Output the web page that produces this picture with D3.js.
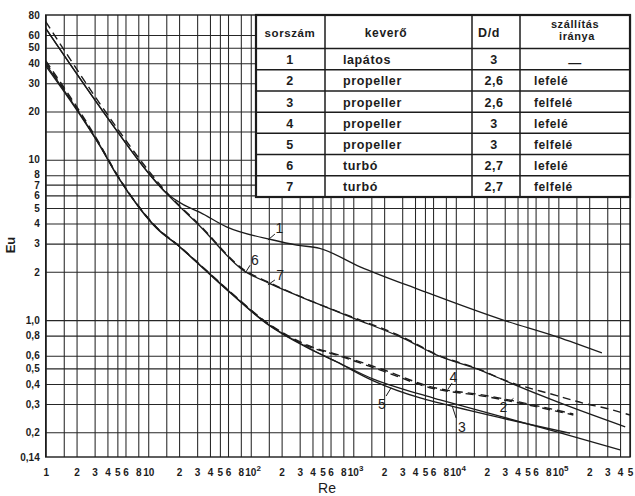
<!DOCTYPE html>
<html><head><meta charset="utf-8">
<script src="https://cdn.jsdelivr.net/npm/d3@7"></script>
<style>
body{margin:0;background:#fff;}
svg{display:block;font-family:"Liberation Sans",Arial,Helvetica,sans-serif;}
</style></head><body>
<svg id="c" width="635" height="496"></svg>
<script>
// ---------- data ----------
const gridMantissas = [1, 1.5, 2, 3, 4, 5, 6, 8];
const xTickValues = [1,2,3,4,5,6,8,10, 20,30,40,50,60,80,100, 200,300,400,500,600,800,1000,
  2000,3000,4000,5000,6000,8000,10000, 20000,30000,40000,50000,60000,80000,100000, 200000,300000,400000,500000];
const xTickLabels = ["1","2","3","4","5","6","8","10", "2","3","4","5","6","8","10^2", "2","3","4","5","6","8","10^3",
  "2","3","4","5","6","8","10^4", "2","3","4","5","6","8","10^5", "2","3","4","5"];
const yGridValues = [0.2,0.3,0.4,0.5,0.6,0.8,1,2,3,4,5,6,7,8,10,15,20,30,40,50,60];
const yTickValues = [80,60,50,40,30,20,10,8,7,6,5,4,3,2,1,0.8,0.6,0.5,0.4,0.3,0.2,0.14];
const yTickLabels = ["80","60","50","40","30","20","10","8","7","6","5","4","3","2","1,0","0,8","0,6","0,5","0,4","0,3","0,2","0,14"];

// series: [Re, Eu]
const curve1 = [[1,66],[4.75,15.7],[10,8.3],[15,6.2],[22,5.25],[32,4.7],[58,3.82],[165,3.16],[280,2.94],[470,2.8],[1165,2.15],[4500,1.54],[29000,1.0],[97000,0.787],[266000,0.625]];
const curve2 = [[1,41.5],[3.4,12.4],[5,8.0],[8.3,5.0],[12,3.8],[20.4,2.87],[30,2.3],[63,1.5],[143,0.96],[352,0.69],[690,0.605],[1967,0.48],[5500,0.38],[20000,0.333],[140000,0.256]];
const curve3 = [[1,38.5],[3.4,12.1],[5,7.9],[8.3,4.95],[12,3.75],[20.4,2.85],[30,2.28],[63,1.48],[143,0.95],[352,0.675],[690,0.55],[1570,0.428],[4490,0.345],[7030,0.318],[96600,0.201],[400000,0.155]];
const curve4 = [[1,40.5],[3.4,12.2],[5,8.0],[8.3,5.0],[12,3.8],[20.4,2.87],[30,2.3],[63,1.5],[143,0.97],[352,0.7],[690,0.612],[1967,0.49],[5500,0.386],[20000,0.338],[140000,0.26]];
const curve5 = [[1,39.5],[3.4,12.2],[5,7.95],[8.3,4.98],[12,3.78],[20.4,2.86],[30,2.29],[63,1.49],[143,0.955],[352,0.68],[690,0.548],[1570,0.418],[4490,0.327],[7030,0.303],[130000,0.197]];
const curve6 = [[1,72.7],[4.75,16.4],[10,8.6],[15,6.3],[32,3.9],[84,2.08],[150,1.72],[405,1.3],[1000,1.04],[3083,0.78],[6530,0.61],[17300,0.49],[29100,0.425],[96600,0.338],[176000,0.303],[297000,0.281],[500000,0.256]];
const curve7 = [[1,66],[4.75,15.7],[10,8.3],[15,6.2],[32,3.85],[84,2.05],[150,1.7],[405,1.3],[1000,1.03],[3083,0.77],[6530,0.605],[17300,0.488],[29100,0.423],[96600,0.31],[449000,0.216]];

const seriesNames = ["1","2","3","4","5","6","7"];
const seriesData = [curve1, curve2, curve3, curve4, curve5, curve6, curve7];
const seriesDashed = [false, true, false, true, false, true, false];

// curve labels: text anchor and leader (data coords)
const curveLabels = [
  {t:"1", re:190, eu:3.75, l:[[172,3.44],[147,3.16]]},
  {t:"6", re:110, eu:2.37, l:[[98.5,2.2],[88,1.96]]},
  {t:"7", re:193, eu:1.91, l:[[172,1.78],[147,1.66]]},
  {t:"4", re:9480, eu:0.443, l:[[9204,0.405],[8414,0.372]]},
  {t:"2", re:29110, eu:0.288, l:[[33900,0.312],[36500,0.325]]},
  {t:"5", re:1897, eu:0.302, l:[[2089,0.336],[2338,0.378]]},
  {t:"3", re:11450, eu:0.216, l:[[10070,0.245],[9204,0.292]]}
];

// table
const tableHeader = ["sorszám","keverő","D/d","szállítás|iránya"];
const rowNo = ["1","2","3","4","5","6","7"];
const mixer = ["lapátos","propeller","propeller","propeller","propeller","turbó","turbó"];
const ratio = ["3","2,6","2,6","3","3","2,7","2,7"];
const direction = ["—","lefelé","felfelé","lefelé","felfelé","lefelé","felfelé"];

// ---------- drawing ----------
const svg = d3.select("#c");
const m = {l:45.7, r:630, t:15, b:457};
const x = d3.scaleLog().domain([1, 5e5]).range([m.l, m.r]);
const y = d3.scaleLog().domain([0.14, 80]).range([m.b, m.t]);
const ink = "#1c1c1c";

svg.append("rect").attr("width",635).attr("height",496).attr("fill","#fff");

// vertical grid
const xGrid = [];
for (let k = 0; k <= 5; k++) gridMantissas.forEach(mm => { const v = mm * Math.pow(10,k); if (v <= 5e5) xGrid.push(v); });
xGrid.push(5e5);
svg.append("g").attr("transform",`translate(0,${m.b})`)
  .call(d3.axisBottom(x).tickValues(xGrid).tickSize(-(m.b-m.t)).tickFormat(""))
  .call(g => g.select(".domain").remove())
  .selectAll("line").attr("stroke", "#262626").attr("stroke-width", 1.05);

// horizontal grid
svg.append("g").attr("transform",`translate(${m.l},0)`)
  .call(d3.axisLeft(y).tickValues(yGridValues).tickSize(-(m.r-m.l)).tickFormat(""))
  .call(g => g.select(".domain").remove())
  .selectAll("line").attr("stroke", "#262626").attr("stroke-width", 1.05);

// frame
svg.append("rect").attr("x",m.l).attr("y",m.t).attr("width",m.r-m.l).attr("height",m.b-m.t)
  .attr("fill","none").attr("stroke",ink).attr("stroke-width",1.4);

// axes labels
const xAxis = svg.append("g").attr("transform",`translate(0,${m.b})`)
  .call(d3.axisBottom(x).tickValues(xTickValues).tickFormat((d,i)=>xTickLabels[i]).tickSize(0).tickPadding(12));
xAxis.select(".domain").remove();
xAxis.selectAll("text").attr("font-size",10).attr("font-weight","bold").attr("fill",ink)
  .attr("font-family","'Liberation Sans',Arial,sans-serif")
  .each(function(d,i){
    const lab = xTickLabels[i];
    if (lab.includes("^")) {
      const [b,e] = lab.split("^");
      const s = d3.select(this).text(null).attr("text-anchor","start").attr("x",-6);
      s.append("tspan").text(b);
      s.append("tspan").text(e).attr("font-size",8).attr("dy",-5);
    }
  });

const yAxis = svg.append("g").attr("transform",`translate(${m.l},0)`)
  .call(d3.axisLeft(y).tickValues(yTickValues).tickFormat((d,i)=>yTickLabels[i]).tickSize(0).tickPadding(6));
yAxis.select(".domain").remove();
yAxis.selectAll("text").attr("font-size",10).attr("font-weight","bold").attr("fill",ink)
  .attr("font-family","'Liberation Sans',Arial,sans-serif")
  .attr("dy", (d)=> d===8 ? "0.22em" : d===7 ? "0.42em" : "0.32em");

svg.append("text").attr("x",327).attr("y",493).attr("text-anchor","middle")
  .attr("font-size",14).attr("fill",ink).text("Re");
svg.append("text").attr("transform","translate(15,245) rotate(-90)").attr("text-anchor","middle")
  .attr("font-size",13).attr("font-weight","bold").attr("fill",ink).text("Eu");

// curves
const line = d3.line().x(d=>x(d[0])).y(d=>y(d[1])).curve(d3.curveMonotoneX);
seriesData.forEach((s,i)=>{
  svg.append("path").datum(s).attr("d",line).attr("fill","none")
    .attr("stroke",ink).attr("stroke-width", seriesDashed[i] ? 1.4 : 1.3)
    .attr("stroke-dasharray", seriesDashed[i] ? "8,5" : null);
});

// curve labels
curveLabels.forEach(c=>{
  svg.append("line").attr("x1",x(c.l[0][0])).attr("y1",y(c.l[0][1]))
    .attr("x2",x(c.l[1][0])).attr("y2",y(c.l[1][1])).attr("stroke",ink).attr("stroke-width",1);
  svg.append("text").attr("x",x(c.re)).attr("y",y(c.eu)).attr("dy","0.36em").attr("text-anchor","middle")
    .attr("font-size",14).attr("fill",ink).text(c.t);
});

// table
const colX = [256, 325, 472, 520, 630];
const tTop = 15, hBot = 48.5, tBot = 197;
const rowH = (tBot - hBot) / rowNo.length;
const tg = svg.append("g");
tg.append("rect").attr("x",colX[0]).attr("y",tTop).attr("width",colX[4]-colX[0]).attr("height",tBot-tTop)
  .attr("fill","#fff").attr("stroke",ink).attr("stroke-width",2.2);
colX.slice(1,4).forEach(cx=> tg.append("line").attr("x1",cx).attr("x2",cx).attr("y1",tTop).attr("y2",tBot)
  .attr("stroke",ink).attr("stroke-width",1.5));
d3.range(rowNo.length).forEach(i=>{
  const yy = hBot + i*rowH;
  tg.append("line").attr("x1",colX[0]).attr("x2",colX[4]).attr("y1",yy).attr("y2",yy)
    .attr("stroke",ink).attr("stroke-width",1.5);
});
const txt = (xx,yy,t,anchor,size)=> tg.append("text").attr("x",xx).attr("y",yy).attr("text-anchor",anchor)
  .attr("font-size",size).attr("font-weight","bold").attr("fill",ink).attr("letter-spacing",0.6).text(t);
txt(290, 37, tableHeader[0], "middle", 11.5);
txt(386, 37, tableHeader[1], "middle", 12);
txt(489, 37, tableHeader[2], "middle", 12.5);
const hd = tableHeader[3].split("|");
txt(575, 28, hd[0], "middle", 11);
txt(577, 40, hd[1], "middle", 11);
rowNo.forEach((r,i)=>{
  const cy = hBot + (i+0.5)*rowH + 5;
  txt(290, cy, r, "middle", 12.5);
  txt(343, cy, mixer[i], "start", 12.5);
  txt(494, cy, ratio[i], "middle", 12.5);
  if (direction[i] === "—") txt(575, cy+3, direction[i], "middle", 13);
  else txt(534, cy, direction[i], "start", 12);
});
</script>
</body></html>
